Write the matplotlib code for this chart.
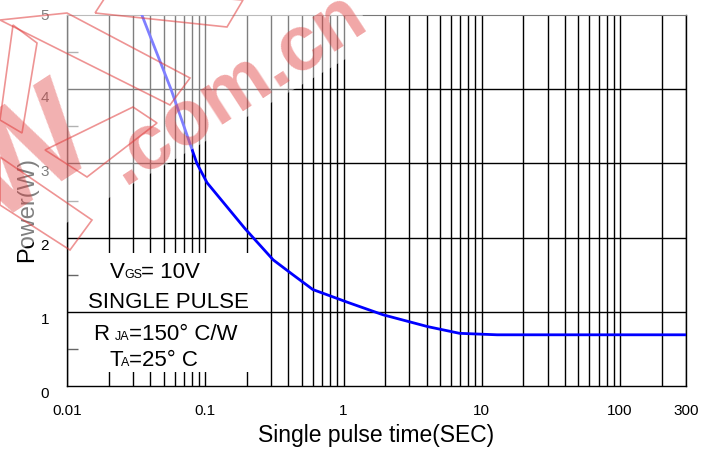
import matplotlib
matplotlib.use("Agg")
import matplotlib.pyplot as plt
from matplotlib.patches import Rectangle, Polygon
from matplotlib.ticker import LogLocator, NullFormatter, FixedLocator
import matplotlib.transforms as mtransforms

plt.rcParams['font.family'] = ['Liberation Sans', 'DejaVu Sans']

# single pulse power curve
pulse_time = [0.0348, 0.0565, 0.087, 0.103, 0.194, 0.31, 0.43, 0.6, 1.1, 1.93, 4.07, 6.9, 12.9, 300]
power = [5.0, 4.0, 3.0, 2.74, 2.12, 1.70, 1.50, 1.30, 1.12, 0.96, 0.80, 0.71, 0.69, 0.69]

xticks = [0.01, 0.1, 1, 10, 100, 300]
xtick_labels = ['0.01', '0.1', '1', '10', '100', '300']
yticks = [0, 1, 2, 3, 4, 5]
hlines = [1, 2, 3, 4]

fig = plt.figure(figsize=(7.14, 4.55), dpi=100)
ax = fig.add_axes([67/714, 69/455, 619/714, 371/455])
ax.set_xscale('log')
ax.set_xlim(0.01, 300)
ax.set_ylim(0, 5)

# vertical grid on every decade sub-division
ax.xaxis.set_minor_locator(LogLocator(base=10, subs=range(2, 10), numticks=20))
ax.xaxis.set_minor_formatter(NullFormatter())
ax.set_xticks(xticks)
ax.set_xticklabels(xtick_labels, fontsize=11)
ax.set_axisbelow(True)
ax.grid(True, which='both', axis='x', color='black', lw=1)
ax.tick_params(axis='x', which='both', length=0, pad=13)

ax.set_yticks(yticks)
ax.set_yticklabels([str(v) for v in yticks], fontsize=11)
ax.yaxis.set_minor_locator(FixedLocator([0.5, 1.5, 2.5, 3.5, 4.5]))
ax.tick_params(axis='y', which='major', length=0, pad=13)
ax.tick_params(axis='y', which='minor', length=8, direction='in', color='#666666', width=1)
shift = mtransforms.ScaledTranslation(0, -5/72, fig.dpi_scale_trans)
for lab in ax.get_yticklabels()[:-1]:
    lab.set_transform(lab.get_transform() + shift)

for s in ['left', 'right', 'bottom']:
    ax.spines[s].set_color('black')
    ax.spines[s].set_linewidth(1)
ax.spines['top'].set_color('#777777')

# white panel behind the conditions text
ax.add_patch(Rectangle((0.02, 0.038), 0.292, 0.32, transform=ax.transAxes,
                       facecolor='white', edgecolor='none', zorder=1))
for h in hlines:
    ax.axhline(h, color='black', lw=1, zorder=1.5)

ax.plot(pulse_time, power, color='#0000ff', lw=2.0, zorder=3)

ax.set_xlabel('Single pulse time(SEC)', fontsize=16.5, labelpad=4)

fig.text(33/714, 1 - 262/455, 'Power(W)', rotation=90, rotation_mode='anchor',
         ha='left', va='baseline', fontsize=17)


def fpx(x, y):
    return x / 714, 1 - y / 455


big = 16
small = 9
# V_GS = 10V
fig.text(*fpx(110, 278), 'V', fontsize=big, va='baseline')
fig.text(*fpx(124, 278), 'GS', fontsize=small, va='baseline')
fig.text(*fpx(141, 278), '= 10V', fontsize=big, va='baseline')
fig.text(*fpx(88, 308), 'SINGLE PULSE', fontsize=big, va='baseline')
fig.text(*fpx(93, 340), 'R', fontsize=big, va='baseline')
fig.text(*fpx(115, 340), 'JA', fontsize=small, va='baseline')
fig.text(*fpx(129, 340), '=150\u00b0 C/W', fontsize=big, va='baseline')
fig.text(*fpx(110, 366), 'T', fontsize=big, va='baseline')
fig.text(*fpx(121, 366), 'A', fontsize=small, va='baseline')
fig.text(*fpx(129, 366), '=25\u00b0 C', fontsize=big, va='baseline')

# site watermark layer in pixel space
wm = fig.add_axes([0, 0, 1, 1], zorder=10)
wm.set_xlim(0, 714)
wm.set_ylim(455, 0)
wm.axis('off')
wm.patch.set_alpha(0)

wm.add_patch(Polygon([(0, 262), (378, 40), (350, -5), (0, -5)], closed=True,
                     facecolor='white', edgecolor='none', alpha=0.5))
red = '#e03c3c'
wm.text(236, 88, '.com.cn', fontsize=56, fontweight='bold', color=red, alpha=0.45,
        rotation=33, rotation_mode='anchor', ha='center', va='center')
wm.text(28, 160, 'W', fontsize=100, fontweight='bold', color=red, alpha=0.4,
        rotation=33, rotation_mode='anchor', ha='center', va='center')

outlines = [
    [(95, 13), (227, 27), (243, 0), (110, -10)],
    [(67, 13), (190, 78), (170, 105), (0, 20)],
    [(45, 150), (87, 177), (157, 123), (133, 107)],
    [(13, 25), (37, 43), (22, 133), (0, 120)],
    [(0, 157), (92, 220), (70, 250), (0, 205)],
]
for pts in outlines:
    wm.add_patch(Polygon(pts, closed=True, facecolor='none', edgecolor=red,
                         lw=1.2, alpha=0.55))

fig.savefig('out.png', dpi=100)
